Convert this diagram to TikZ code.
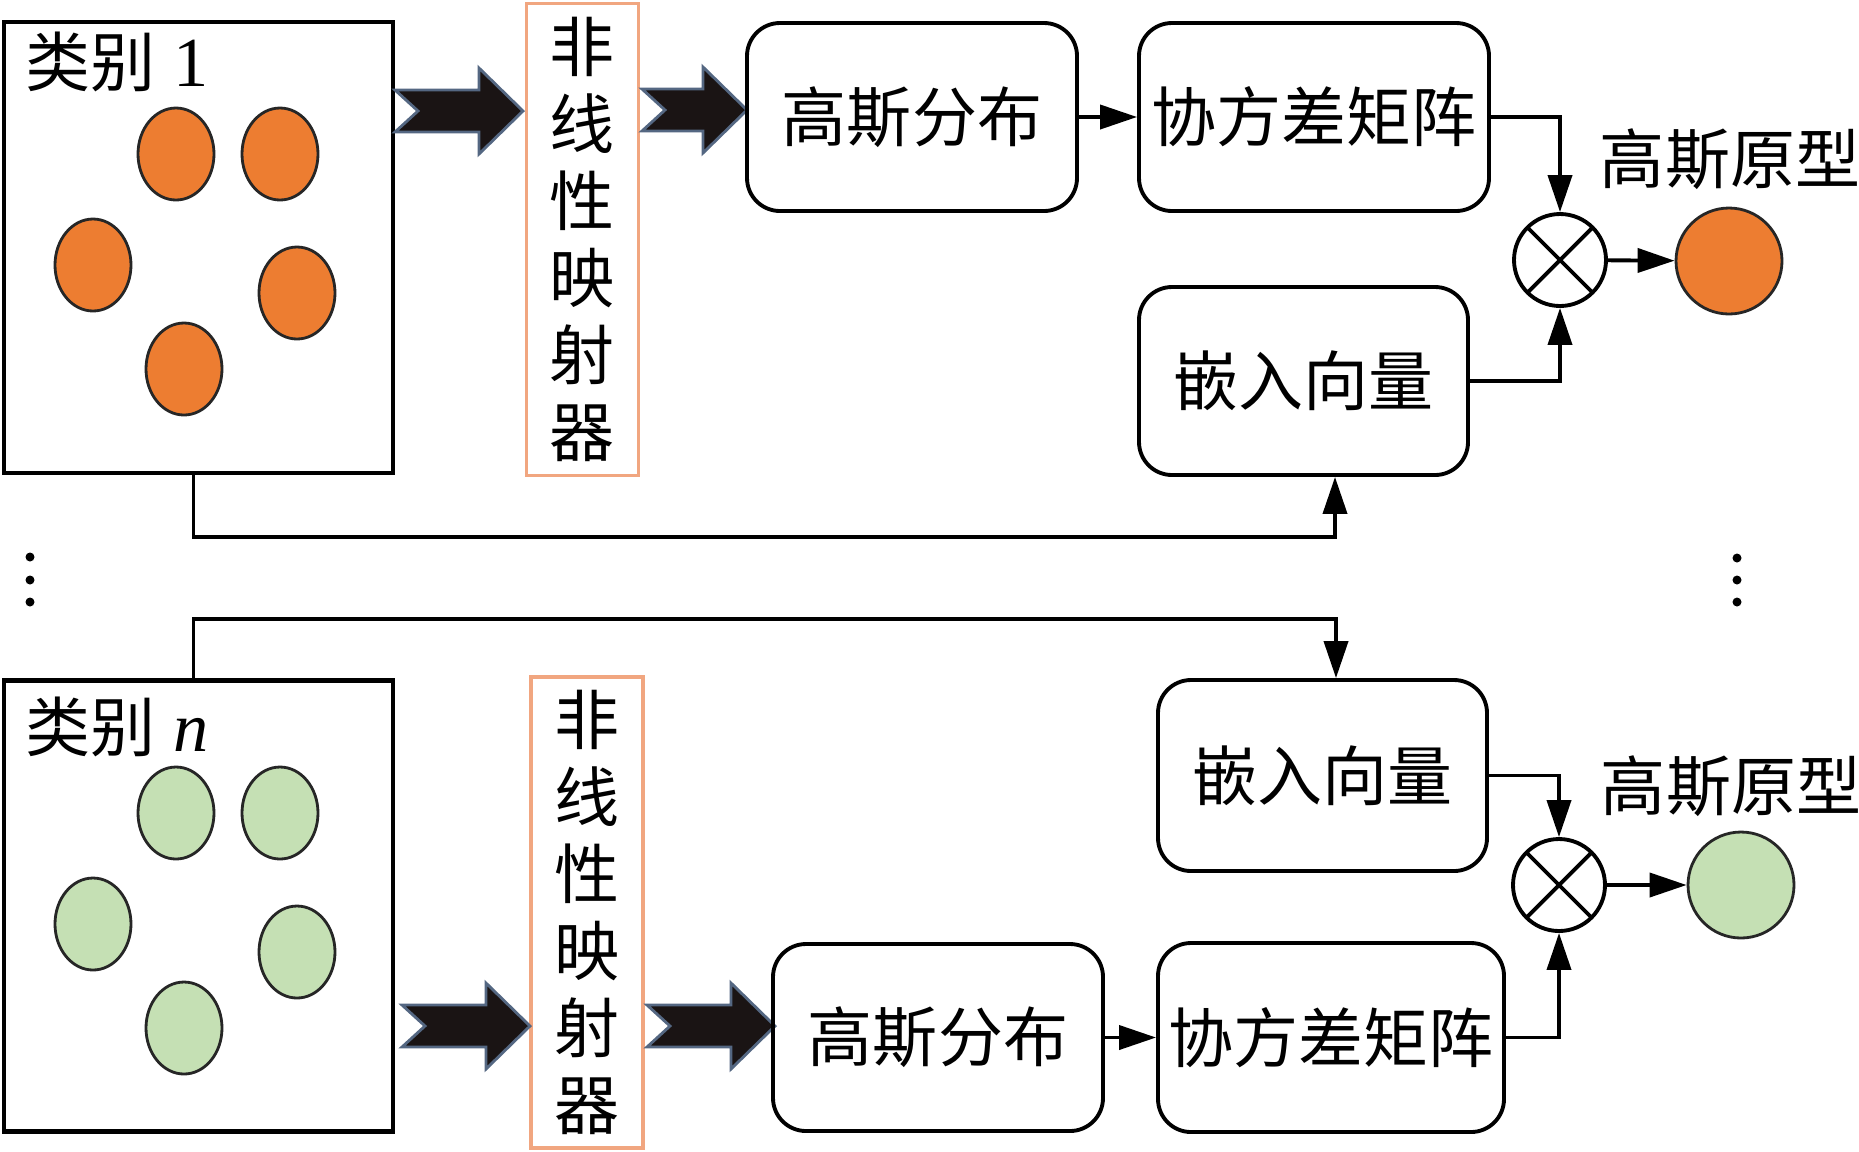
\documentclass[tikz,border=0pt]{standalone}
\usepackage{fontspec}
\setmainfont{Liberation Serif}
\newfontfamily\cjk{Noto Sans CJK SC}
\usepackage{tikz}
\usetikzlibrary{positioning}
\usetikzlibrary{arrows.meta}
\usepackage{xcolor}

\definecolor{protoorange}{RGB}{237,125,49}
\definecolor{protogreen}{RGB}{197,224,180}
\definecolor{mapedge}{RGB}{241,166,128}
\definecolor{arrowedge}{RGB}{84,103,130}
\definecolor{arrowfill}{RGB}{26,20,20}

\tikzset{
  pics/fatarrow/.style={code={
    \filldraw[fill=arrowfill, draw=arrowedge, line width=0.8pt, line join=miter]
      (0,0.21) -- ({#1-0.44},0.21) -- ({#1-0.44},0.43) -- (#1,0)
      -- ({#1-0.44},-0.43) -- ({#1-0.44},-0.21) -- (0,-0.21) -- (0.23,0) -- cycle;
  }}
}

\begin{document}
\begin{tikzpicture}[
    box/.style={draw, line width=1.1pt, rounded corners=0.33cm, minimum height=1.88cm,
      inner sep=0pt, font=\cjk\fontsize{18.5}{22}\selectfont},
    classbox/.style={draw, line width=1.2pt, minimum width=3.89cm, minimum height=4.51cm, inner sep=0pt},
    mapper/.style={draw=mapedge, line width=0.9pt, minimum width=1.12cm, minimum height=4.72cm,
      inner sep=0pt, align=center, font=\cjk\fontsize{18.5}{21.9}\selectfont},
    conn/.style={line width=1.1pt, -{Triangle[length=3.7mm,width=2.4mm]}},
    blob/.style={draw=black!85, line width=0.8pt},
    mult/.style={draw, circle, line width=1.1pt, minimum size=0.92cm, inner sep=0pt,
      path picture={
        \draw[line width=1.1pt] (path picture bounding box.north west) -- (path picture bounding box.south east);
        \draw[line width=1.1pt] (path picture bounding box.south west) -- (path picture bounding box.north east);
      }},
    proto/.style={draw=black!85, circle, line width=0.8pt, minimum size=1.06cm, inner sep=0pt},
    protolabel/.style={inner sep=0pt, font=\cjk\fontsize{18.5}{22}\selectfont}
    ]

    \useasboundingbox (0,0) rectangle (18.59,-11.51);

    % class 1
    \node[classbox] (cls1) at (1.985,-2.475) {};
    \node[anchor=west, inner sep=0pt, font=\fontsize{20}{24}\selectfont] (lab1) at (0.25,-0.62)
      {{\cjk\fontsize{18.5}{22}\selectfont 类别} 1};
    \filldraw[blob, fill=protoorange] (1.76,-1.54) ellipse (0.38 and 0.46);
    \filldraw[blob, fill=protoorange] (2.80,-1.54) ellipse (0.38 and 0.46);
    \filldraw[blob, fill=protoorange] (0.93,-2.65) ellipse (0.38 and 0.46);
    \filldraw[blob, fill=protoorange] (2.97,-2.93) ellipse (0.38 and 0.46);
    \filldraw[blob, fill=protoorange] (1.84,-3.69) ellipse (0.38 and 0.46);

    \node[mapper] (map1) at (5.825,-2.395) {非\\线\\性\\映\\射\\器};
    \pic at (3.95,-1.11) {fatarrow=1.28};
    \pic at (6.42,-1.10) {fatarrow=1.05};

    \node[box, minimum width=3.30cm] (g1) at (9.12,-1.17) {高斯分布};
    \node[box, minimum width=3.50cm] (c1) at (13.14,-1.17) {协方差矩阵};
    \node[box, minimum width=3.29cm] (e1) at (13.035,-3.81) {嵌入向量};
    \node[mult] (o1) at (15.60,-2.60) {};
    \node[proto, fill=protoorange] (p1) at (17.29,-2.61) {};
    \node[protolabel] (l1) at (17.30,-1.59) {高斯原型};

    \coordinate (t1) at (13.35,-5.37);
    \draw[conn] (g1) -- (c1);
    \draw[conn] (c1.east) -| (o1.north);
    \draw[conn] (e1.east) -| (o1.south);
    \draw[conn] (o1) -- (p1);
    \draw[conn] ([xshift=-0.5mm]cls1.south) |- (t1) -- (e1.south -| t1);

    % dots
    \fill (0.30,-5.57) circle (0.045);
    \fill (0.30,-5.80) circle (0.045);
    \fill (0.30,-6.02) circle (0.045);
    \fill (17.37,-5.58) circle (0.045);
    \fill (17.37,-5.80) circle (0.045);
    \fill (17.37,-6.02) circle (0.045);

    % class n
    \node[classbox] (cls2) at (1.985,-9.06) {};
    \node[anchor=west, inner sep=0pt, font=\fontsize{20}{24}\selectfont] (lab2) at (0.25,-7.27)
      {{\cjk\fontsize{18.5}{22}\selectfont 类别} \textit{n}};
    \filldraw[blob, fill=protogreen] (1.76,-8.13) ellipse (0.38 and 0.46);
    \filldraw[blob, fill=protogreen] (2.80,-8.13) ellipse (0.38 and 0.46);
    \filldraw[blob, fill=protogreen] (0.93,-9.24) ellipse (0.38 and 0.46);
    \filldraw[blob, fill=protogreen] (2.97,-9.52) ellipse (0.38 and 0.46);
    \filldraw[blob, fill=protogreen] (1.84,-10.28) ellipse (0.38 and 0.46);

    \node[mapper, minimum height=4.71cm] (map2) at (5.87,-9.125) {非\\线\\性\\映\\射\\器};
    \pic at (4.02,-10.26) {fatarrow=1.28};
    \pic at (6.47,-10.26) {fatarrow=1.28};

    \node[box, minimum width=3.29cm, minimum height=1.91cm] (e2) at (13.225,-7.755) {嵌入向量};
    \node[box, minimum width=3.30cm, minimum height=1.87cm] (g2) at (9.38,-10.375) {高斯分布};
    \node[box, minimum width=3.46cm, minimum height=1.89cm] (c2) at (13.31,-10.375) {协方差矩阵};
    \node[mult] (o2) at (15.59,-8.85) {};
    \node[proto, fill=protogreen] (p2) at (17.41,-8.85) {};
    \node[protolabel] (l2) at (17.31,-7.86) {高斯原型};

    \coordinate (t2) at (13.36,-6.19);
    \draw[conn] (g2) -- (c2);
    \draw[conn] (e2.east) -| (o2.north);
    \draw[conn] (c2.east) -| (o2.south);
    \draw[conn] (o2) -- (p2);
    \draw[conn] ([xshift=-0.5mm]cls2.north) |- (t2) -- (e2.north -| t2);

\end{tikzpicture}
\end{document}
